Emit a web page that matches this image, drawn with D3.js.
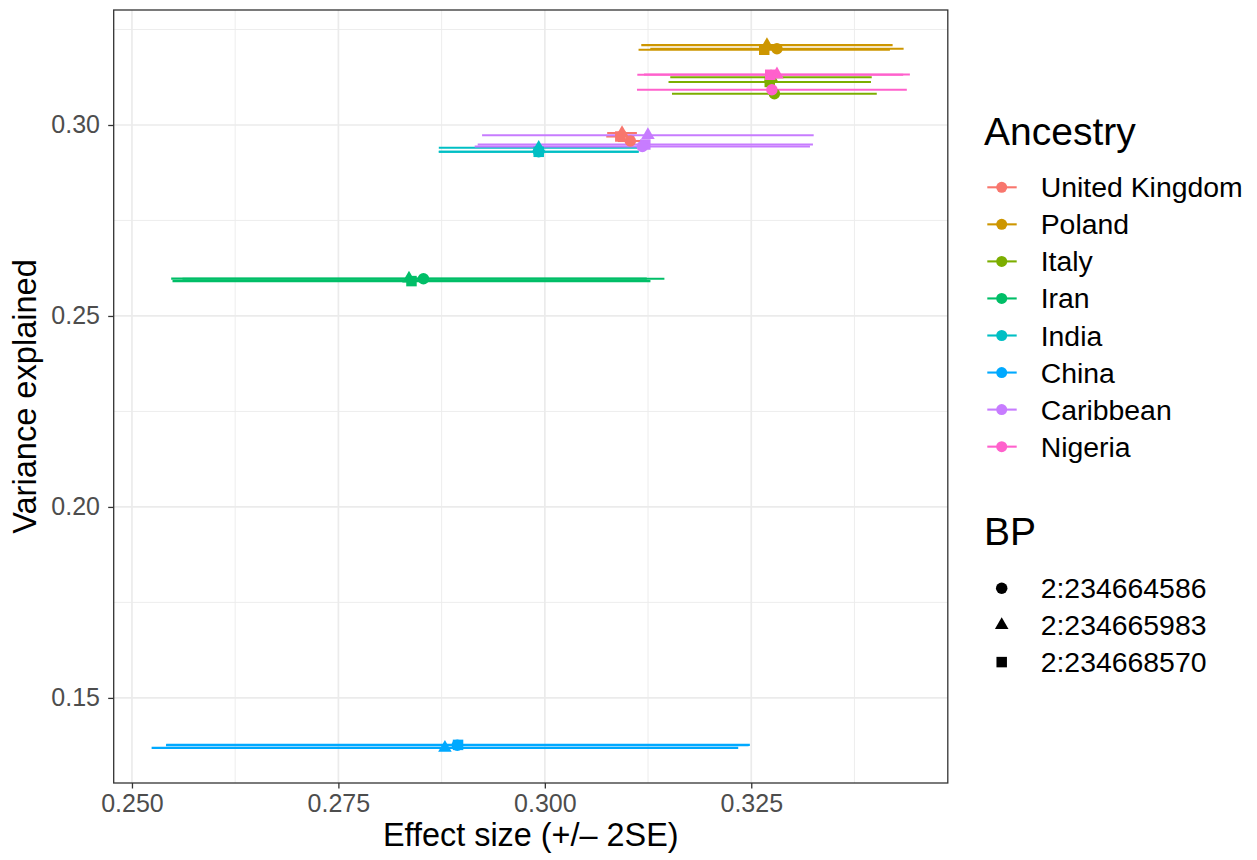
<!DOCTYPE html>
<html>
<head>
<meta charset="utf-8">
<script src="https://cdn.jsdelivr.net/npm/d3@7"></script>
<style>
body{margin:0;background:#fff;}
text{font-family:"Liberation Sans",Arial,Helvetica,sans-serif;}
</style>
</head>
<body>
<div id="plot"></div>
<script>
//Data: one row per ancestry, columns follow the BP order
var ancestries = ['United Kingdom','Poland','Italy','Iran','India','China','Caribbean','Nigeria'];
var ancestryColors = ['#F8766D','#CD9600','#7CAE00','#00BE67','#00BFC4','#00A9FF','#C77CFF','#FF61CC'];
var bps = ['2:234664586','2:234665983','2:234668570'];
var bpShapes = [d3.symbolCircle, d3.symbolTriangle, d3.symbolSquare];

var effectSize = [
	[0.31035,0.30935,0.30914],
	[0.32811,0.32690,0.32657],
	[0.32780,0.32739,0.32724],
	[0.28530,0.28355,0.28385],
	[0.29926,0.29926,0.29926],
	[0.28940,0.28790,0.28949],
	[0.31181,0.31248,0.31217],
	[0.32750,0.32811,0.32730]
];
var effectSE = [
	[0.00075,0.00090,0.00085],
	[0.00767,0.00761,0.00761],
	[0.00620,0.00610,0.00613],
	[0.01459,0.01440,0.01447],
	[0.00605,0.00605,0.00605],
	[0.01764,0.01776,0.01767],
	[0.01015,0.01004,0.01015],
	[0.00817,0.00805,0.00805]
];
var varExplained = [
	[0.29581,0.29790,0.29699],
	[0.31996,0.32091,0.31970],
	[0.30817,0.31252,0.31127],
	[0.25973,0.25979,0.25913],
	[0.29300,0.29403,0.29298],
	[0.13760,0.13692,0.13770],
	[0.29437,0.29733,0.29489],
	[0.30922,0.31323,0.31315]
];
//order in which the rows of each ancestry come in the data (decides overlap)
var rowOrder = [
	[1,2,0],[1,2,0],[0,1,2],[1,2,0],[1,2,0],[0,1,2],[1,2,0],[0,2,1]
];

var xTicks = [0.250,0.275,0.300,0.325];
var yTicks = [0.15,0.20,0.25,0.30];

//flatten into rows
var rows = [];
ancestries.forEach(function(a,i){
	rowOrder[i].forEach(function(j){
		rows.push({anc:i, bp:j, x:effectSize[i][j], se:effectSE[i][j], y:varExplained[i][j]});
	});
});

var W = 1257, H = 860;
var margin = {t:10, r:W-947.8, b:H-783, l:113.7};
var width = W-margin.l-margin.r,
	height = H-margin.t-margin.b;

var svg = d3.select('#plot')
	.append('svg')
	.attr('width',W)
	.attr('height',H);

svg.append('rect').attr('width',W).attr('height',H).style('fill','#fff');

var plot = svg.append('g')
	.attr('transform','translate('+margin.l+','+margin.t+')');

//ggplot style 5% expansion
function expand(lo,hi){
	var d = (hi-lo)*0.05;
	return [lo-d, hi+d];
}
var xMin = d3.min(rows,function(d){return d.x-2*d.se;}),
	xMax = d3.max(rows,function(d){return d.x+2*d.se;});
var yMin = d3.min(rows,function(d){return d.y;}),
	yMax = d3.max(rows,function(d){return d.y;});

var x = d3.scaleLinear().domain(expand(xMin,xMax)).range([0,width]);
var y = d3.scaleLinear().domain(expand(yMin,yMax)).range([height,0]);
var color = d3.scaleOrdinal().domain(d3.range(ancestries.length)).range(ancestryColors);

function minors(ticks,scale){
	var step = ticks[1]-ticks[0], dom = scale.domain(), out = [];
	for(var v=ticks[0]-step/2; v<=dom[1]; v+=step){
		if(v>=dom[0]) out.push(v);
	}
	return out;
}

//grid
plot.selectAll('.xminor').data(minors(xTicks,x)).enter().append('line')
	.attr('x1',function(d){return x(d);}).attr('x2',function(d){return x(d);})
	.attr('y1',0).attr('y2',height)
	.style('stroke','#EBEBEB').style('stroke-width',0.9);
plot.selectAll('.yminor').data(minors(yTicks,y)).enter().append('line')
	.attr('y1',function(d){return y(d);}).attr('y2',function(d){return y(d);})
	.attr('x1',0).attr('x2',width)
	.style('stroke','#EBEBEB').style('stroke-width',0.9);
plot.selectAll('.xmajor').data(xTicks).enter().append('line')
	.attr('x1',function(d){return x(d);}).attr('x2',function(d){return x(d);})
	.attr('y1',0).attr('y2',height)
	.style('stroke','#EBEBEB').style('stroke-width',1.7);
plot.selectAll('.ymajor').data(yTicks).enter().append('line')
	.attr('y1',function(d){return y(d);}).attr('y2',function(d){return y(d);})
	.attr('x1',0).attr('x2',width)
	.style('stroke','#EBEBEB').style('stroke-width',1.7);

//error bars
plot.selectAll('.bar').data(rows).enter().append('line')
	.attr('x1',function(d){return x(d.x-2*d.se);})
	.attr('x2',function(d){return x(d.x+2*d.se);})
	.attr('y1',function(d){return y(d.y);})
	.attr('y2',function(d){return y(d.y);})
	.style('stroke',function(d){return color(d.anc);})
	.style('stroke-width',2.1);

//points
var symbolSizes = [104, 80, 110];
plot.selectAll('.pt').data(rows).enter().append('path')
	.attr('d',function(d){return d3.symbol().type(bpShapes[d.bp]).size(symbolSizes[d.bp])();})
	.attr('transform',function(d){return 'translate('+x(d.x)+','+y(d.y)+')';})
	.style('fill',function(d){return color(d.anc);});

//panel border
plot.append('rect').attr('width',width).attr('height',height)
	.style('fill','none').style('stroke','#333333').style('stroke-width',1.3);

//axes
var xAxis = plot.append('g').attr('transform','translate(0,'+height+')')
	.call(d3.axisBottom(x).tickValues(xTicks).tickFormat(d3.format('.3f')).tickSize(5.5).tickPadding(5.8));
var yAxis = plot.append('g')
	.call(d3.axisLeft(y).tickValues(yTicks).tickFormat(d3.format('.2f')).tickSize(5.5).tickPadding(8.2));
[xAxis,yAxis].forEach(function(ax){
	ax.select('.domain').remove();
	ax.selectAll('line').style('stroke','#333333').style('stroke-width',1.3);
	ax.selectAll('text').style('fill','#4D4D4D').style('font-size','25px')
		.style('font-family','"Liberation Sans",Arial,Helvetica,sans-serif');
});

//axis titles
svg.append('text')
	.attr('x',margin.l+width/2).attr('y',846)
	.attr('text-anchor','middle').style('font-size','32.4px')
	.text('Effect size (+/\u2013 2SE)');
svg.append('text')
	.attr('transform','translate(36,'+(margin.t+height/2)+') rotate(-90)')
	.attr('text-anchor','middle').style('font-size','32.6px')
	.text('Variance explained');

//legend: Ancestry
var lg = svg.append('g');
lg.append('text').attr('x',984).attr('y',145).style('font-size','39px').text('Ancestry');
var items = lg.selectAll('.anc').data(ancestries).enter().append('g')
	.attr('transform',function(d,i){return 'translate(0,'+(187.3+i*37.05)+')';});
items.append('line').attr('x1',987.3).attr('x2',1016.7)
	.style('stroke',function(d,i){return ancestryColors[i];}).style('stroke-width',2.1);
items.append('circle').attr('cx',1001.7).attr('r',5.5)
	.style('fill',function(d,i){return ancestryColors[i];});
items.append('text').attr('x',1040.7).attr('y',10).style('font-size','28.4px')
	.text(function(d){return d;});

//legend: BP
lg.append('text').attr('x',984).attr('y',545).style('font-size','39px').text('BP');
var bItems = lg.selectAll('.bp').data(bps).enter().append('g')
	.attr('transform',function(d,i){return 'translate(0,'+(588.3+i*36.9)+')';});
bItems.append('path')
	.attr('d',function(d,i){return d3.symbol().type(bpShapes[i]).size(symbolSizes[i])();})
	.attr('transform','translate(1001.7,0)')
	.style('fill','#000');
bItems.append('text').attr('x',1040.7).attr('y',10).style('font-size','28.4px')
	.text(function(d){return d;});
</script>
</body>
</html>
